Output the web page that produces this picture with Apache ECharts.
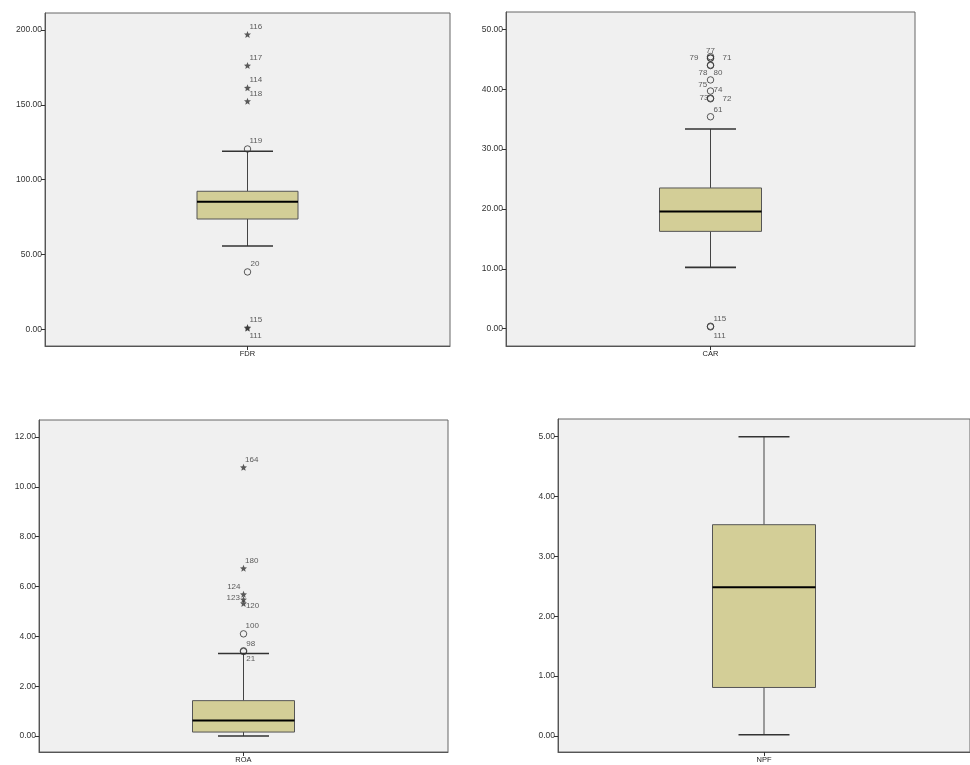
<!DOCTYPE html>
<html>
<head>
<meta charset="utf-8">
<script src="https://cdn.jsdelivr.net/npm/echarts@6/dist/echarts.min.js"></script>
<style>
html,body{margin:0;padding:0;background:#fff;}
#chart{width:970px;height:765px;}
</style>
</head>
<body>
<div id="chart"></div>
<script>
// ---------- DATA ----------
const categories = ['FDR', 'CAR', 'ROA', 'NPF'];
// [lower whisker, Q1, median, Q3, upper whisker]
const fdrBox = [55.8, 73.8, 85.3, 92.3, 119.0];
const carBox = [10.24, 16.25, 19.55, 23.5, 33.36];
const roaBox = [0.0, 0.16, 0.62, 1.42, 3.31];
const npfBox = [0.02, 0.81, 2.485, 3.53, 5.0];
// outliers: [case id, value, kind]  kind: 'o' = outlier, '*' = extreme
const fdrOutliers = [['116', 196.9, '*'], ['117', 176.2, '*'], ['114', 161.3, '*'], ['118', 152.4, '*'],
  ['119', 120.5, 'o'], ['20', 38.5, 'o'], ['115', 1.4, '*'], ['111', 1.0, '*']];
const carOutliers = [['77', 45.45, 'o'], ['79', 45.2, 'o'], ['71', 45.2, 'o'], ['78', 44.05, 'o'], ['80', 43.95, 'o'],
  ['75', 41.55, 'o'], ['74', 39.7, 'o'], ['73', 38.5, 'o'], ['72', 38.4, 'o'], ['61', 35.4, 'o'],
  ['115', 0.4, 'o'], ['111', 0.3, 'o']];
const roaOutliers = [['164', 10.78, '*'], ['180', 6.73, '*'], ['124', 5.69, '*'], ['123', 5.48, '*'], ['120', 5.32, '*'],
  ['100', 4.10, 'o'], ['98', 3.42, 'o'], ['21', 3.39, 'o']];
const npfOutliers = [];
// tick labels
const fdrTicks = [0, 50, 100, 150, 200];
const carTicks = [0, 10, 20, 30, 40, 50];
const roaTicks = [0, 2, 4, 6, 8, 10, 12];
const npfTicks = [0, 1, 2, 3, 4, 5];

// ---------- STYLE / LAYOUT ----------
const panels = [
  {box: fdrBox, out: fdrOutliers, ticks: fdrTicks, range: [-10.9, 211.2], grid: {left: 45, top: 13, width: 405, height: 333}, boxW: 101, capW: 51,
   lab: {'116': ['left', 2, -7.5], '117': ['left', 2, -7.5], '114': ['left', 2, -8], '118': ['left', 2, -7.5], '119': ['left', 2, -8], '20': ['left', 3, -8], '115': ['left', 2, -8], '111': ['left', 2, 7.5]}},
  {box: carBox, out: carOutliers, ticks: carTicks, range: [-2.9, 52.9], grid: {left: 506, top: 12, width: 409, height: 334}, boxW: 102, capW: 51,
   lab: {'77': ['center', 0, -5.5], '79': ['right', -12, 0], '71': ['left', 12, 0], '78': ['right', -3, 7.6], '80': ['left', 3, 7.6], '75': ['right', -3.3, 4.4], '74': ['left', 3, -1], '73': ['right', -2, 0], '72': ['left', 12, 0], '61': ['left', 3, -7.3], '115': ['left', 3, -7.4], '111': ['left', 3, 8.6]}},
  {box: roaBox, out: roaOutliers, ticks: roaTicks, range: [-0.64, 12.68], grid: {left: 39, top: 420, width: 409, height: 332}, boxW: 102, capW: 51,
   lab: {'164': ['left', 1.5, -8], '180': ['left', 1.5, -7.6], '124': ['right', -3, -7.3], '123': ['right', -3.6, -1.3], '120': ['left', 2.4, 2.4], '100': ['left', 2, -8], '98': ['left', 2.7, -6.7], '21': ['left', 2.7, 7.6]}},
  {box: npfBox, out: npfOutliers, ticks: npfTicks, range: [-0.268, 5.296], grid: {left: 558, top: 419, width: 420, height: 333}, boxW: 103, capW: 51, lab: {}}
];

const FONT = "'Liberation Sans', Arial, sans-serif";
const STAR = 'path://M0,-10 L2.6,-3.6 9.5,-3.1 4.2,1.4 5.9,8.1 0,4.4 -5.9,8.1 -4.2,1.4 -9.5,-3.1 -2.6,-3.6 Z';

const grids = [], xAxes = [], yAxes = [], series = [];
panels.forEach((p, i) => {
  grids.push(Object.assign({show: true, backgroundColor: '#f0f0f0', borderColor: '#666', borderWidth: 1}, p.grid));
  xAxes.push({
    type: 'category', gridIndex: i, data: [categories[i]], boundaryGap: true,
    axisLine: {show: true, onZero: false, lineStyle: {color: '#555', width: 1}},
    axisTick: {show: true, alignWithLabel: true, length: 4, lineStyle: {color: '#333'}},
    axisLabel: {color: '#222', fontFamily: FONT, fontSize: 7.5, margin: 4},
    splitLine: {show: false}
  });
  yAxes.push({
    type: 'value', gridIndex: i, min: p.range[0], max: p.range[1],
    axisLine: {show: true, onZero: false, lineStyle: {color: '#555', width: 1}},
    axisTick: {show: true, length: 4, customValues: p.ticks, lineStyle: {color: '#333'}},
    axisLabel: {customValues: p.ticks, color: '#333', fontFamily: FONT, fontSize: 8.5, margin: 3,
      formatter: v => Number(v).toFixed(2)},
    splitLine: {show: false}
  });
  const bw = p.boxW, cw = p.capW;
  series.push({
    type: 'custom', xAxisIndex: i, yAxisIndex: i,
    data: [[0].concat(p.box)],
    encode: {x: 0, y: [1, 2, 3, 4, 5]},
    renderItem: function (params, api) {
      const c = k => api.coord([api.value(0), api.value(k)]);
      const pMin = c(1), pQ1 = c(2), pMed = c(3), pQ3 = c(4), pMax = c(5);
      const x = pMed[0];
      const ls = {stroke: '#444', lineWidth: 1};
      return {type: 'group', children: [
        {type: 'line', shape: {x1: x, y1: pQ3[1], x2: x, y2: pMax[1]}, style: ls},
        {type: 'line', shape: {x1: x, y1: pQ1[1], x2: x, y2: pMin[1]}, style: ls},
        {type: 'line', shape: {x1: x - cw / 2, y1: pMax[1], x2: x + cw / 2, y2: pMax[1]}, style: {stroke: '#333', lineWidth: 1.6}},
        {type: 'line', shape: {x1: x - cw / 2, y1: pMin[1], x2: x + cw / 2, y2: pMin[1]}, style: {stroke: '#333', lineWidth: 1.6}},
        {type: 'rect', shape: {x: x - bw / 2, y: pQ3[1], width: bw, height: pQ1[1] - pQ3[1]},
          style: {fill: '#d3ce97', stroke: '#555', lineWidth: 1}},
        {type: 'line', shape: {x1: x - bw / 2, y1: pMed[1], x2: x + bw / 2, y2: pMed[1]}, style: {stroke: '#000', lineWidth: 2}}
      ]};
    },
    z: 2
  });
  if (p.out.length) {
    series.push({
      type: 'scatter', xAxisIndex: i, yAxisIndex: i, z: 3,
      data: p.out.map(o => {
        const l = p.lab[o[0]] || ['left', 2, -8];
        const star = o[2] === '*';
        return {
          name: o[0], value: [0, o[1]],
          symbol: star ? STAR : 'circle',
          symbolSize: star ? 7 : 6.5,
          itemStyle: star ? {color: '#333', borderWidth: 0} : {color: 'rgba(0,0,0,0)', borderColor: '#333', borderWidth: 1},
          label: {show: true, position: 'inside', formatter: o[0], align: l[0], verticalAlign: 'middle',
            offset: [l[1], l[2]], color: '#333', fontFamily: FONT, fontSize: 8}
        };
      })
    });
  }
});

const chart = echarts.init(document.getElementById('chart'), null, {renderer: 'canvas'});
chart.setOption({
  animation: false,
  backgroundColor: '#fff',
  grid: grids, xAxis: xAxes, yAxis: yAxes, series: series
});
</script>
</body>
</html>
